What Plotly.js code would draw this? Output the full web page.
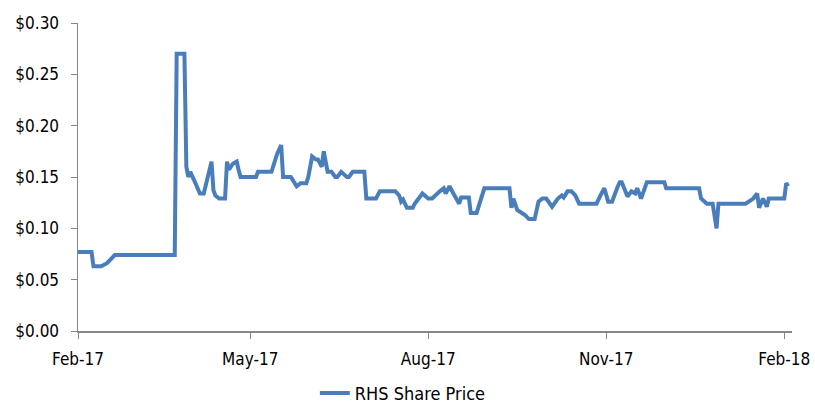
<!DOCTYPE html>
<html>
<head>
<meta charset="utf-8">
<script src="https://cdn.plot.ly/plotly-3.0.1.min.js"></script>
<style>
  html, body { margin: 0; padding: 0; background: #fff; }
  #chart { width: 815px; height: 412px; }
</style>
</head>
<body>
<div id="chart"></div>
<script>
// RHS share price
var dates = [
    '2017-02-01', '2017-02-08', '2017-02-09', '2017-02-13', '2017-02-16', '2017-02-17', '2017-02-20',
    '2017-03-23', '2017-03-24', '2017-03-28', '2017-03-29', '2017-03-30', '2017-03-31', '2017-04-02',
    '2017-04-04', '2017-04-05', '2017-04-07', '2017-04-11', '2017-04-12', '2017-04-13', '2017-04-15',
    '2017-04-18', '2017-04-19', '2017-04-20', '2017-04-22', '2017-04-24', '2017-04-25', '2017-04-26',
    '2017-05-04', '2017-05-05', '2017-05-12', '2017-05-15', '2017-05-17', '2017-05-18', '2017-05-22',
    '2017-05-23', '2017-05-25', '2017-05-27', '2017-05-30', '2017-05-31', '2017-06-02', '2017-06-04',
    '2017-06-05', '2017-06-07', '2017-06-08', '2017-06-10', '2017-06-12', '2017-06-14', '2017-06-15',
    '2017-06-17', '2017-06-20', '2017-06-21', '2017-06-23', '2017-06-29', '2017-06-30', '2017-07-05',
    '2017-07-07', '2017-07-15', '2017-07-17', '2017-07-18', '2017-07-19', '2017-07-21', '2017-07-24',
    '2017-07-25', '2017-07-29', '2017-08-01', '2017-08-03', '2017-08-07', '2017-08-09', '2017-08-10',
    '2017-08-12', '2017-08-14', '2017-08-17', '2017-08-18', '2017-08-22', '2017-08-23', '2017-08-26',
    '2017-08-30', '2017-09-12', '2017-09-13', '2017-09-14', '2017-09-16', '2017-09-18', '2017-09-20',
    '2017-09-22', '2017-09-25', '2017-09-27', '2017-09-29', '2017-10-01', '2017-10-04', '2017-10-07',
    '2017-10-09', '2017-10-10', '2017-10-12', '2017-10-14', '2017-10-16', '2017-10-18', '2017-10-27',
    '2017-10-29', '2017-10-31', '2017-11-02', '2017-11-04', '2017-11-07', '2017-11-08', '2017-11-09',
    '2017-11-12', '2017-11-14', '2017-11-16', '2017-11-17', '2017-11-19', '2017-11-22', '2017-12-01',
    '2017-12-02', '2017-12-19', '2017-12-20', '2017-12-23', '2017-12-26', '2017-12-28', '2017-12-29',
    '2018-01-12', '2018-01-16', '2018-01-18', '2018-01-19', '2018-01-21', '2018-01-23', '2018-01-24',
    '2018-02-01', '2018-02-02', '2018-02-03'
];
var prices = [
    0.077, 0.077, 0.063, 0.063, 0.066, 0.068, 0.074,
    0.074, 0.270, 0.270, 0.160, 0.150, 0.155, 0.147,
    0.137, 0.134, 0.134, 0.165, 0.137, 0.132, 0.129,
    0.129, 0.165, 0.157, 0.163, 0.165, 0.157, 0.150,
    0.150, 0.155, 0.155, 0.173, 0.181, 0.150, 0.150,
    0.147, 0.141, 0.144, 0.144, 0.150, 0.170, 0.167,
    0.167, 0.160, 0.175, 0.155, 0.155, 0.150, 0.150,
    0.155, 0.150, 0.150, 0.155, 0.155, 0.129, 0.129,
    0.136, 0.136, 0.132, 0.126, 0.128, 0.120, 0.120,
    0.124, 0.134, 0.129, 0.129, 0.136, 0.139, 0.134,
    0.141, 0.134, 0.124, 0.130, 0.130, 0.115, 0.115,
    0.139, 0.139, 0.120, 0.129, 0.118, 0.116, 0.113,
    0.109, 0.109, 0.126, 0.129, 0.129, 0.121, 0.129,
    0.132, 0.130, 0.136, 0.136, 0.132, 0.124, 0.124,
    0.132, 0.139, 0.126, 0.126, 0.141, 0.145, 0.145,
    0.131, 0.136, 0.134, 0.139, 0.129, 0.145, 0.145,
    0.139, 0.139, 0.129, 0.124, 0.124, 0.100, 0.124,
    0.124, 0.129, 0.134, 0.120, 0.129, 0.121, 0.129,
    0.129, 0.144, 0.141
];

var font = { family: 'Liberation Sans Narrow, DejaVu Sans Condensed, sans-serif', size: 17, color: '#000' };

var data = [{
    name: 'RHS Share Price',
    x: dates,
    y: prices,
    type: 'scatter',
    mode: 'lines',
    line: { color: '#4A7EBB', width: 4 }
}];

var layout = {
    width: 815,
    height: 412,
    font: font,
    paper_bgcolor: '#fff',
    plot_bgcolor: '#fff',
    margin: { l: 78, r: 23, t: 23, b: 81, pad: 0, autoexpand: false },
    xaxis: {
        type: 'date',
        range: ['2017-02-01', '2018-02-05'],
        tick0: '2017-02-01',
        dtick: 'M3',
        tickformat: '%b-%y',
        showgrid: false,
        zeroline: false,
        showline: true,
        linecolor: '#868686',
        linewidth: 1.5,
        ticks: 'outside',
        ticklen: 6,
        tickcolor: '#868686',
        ticklabelstandoff: 6,
        automargin: false
    },
    yaxis: {
        range: [0, 0.30],
        dtick: 0.05,
        tickformat: '$.2f',
        showgrid: false,
        zeroline: false,
        showline: true,
        linecolor: '#868686',
        linewidth: 1.5,
        ticks: 'outside',
        ticklen: 6,
        tickcolor: '#868686',
        ticklabelstandoff: 8,
        automargin: false
    },
    showlegend: true,
    legend: {
        orientation: 'h',
        x: 0.455,
        xanchor: 'center',
        y: -0.262,
        yanchor: 'bottom',
        font: { family: font.family, size: 18, color: '#000' }
    }
};

Plotly.newPlot('chart', data, layout, { staticPlot: true });
</script>
</body>
</html>
